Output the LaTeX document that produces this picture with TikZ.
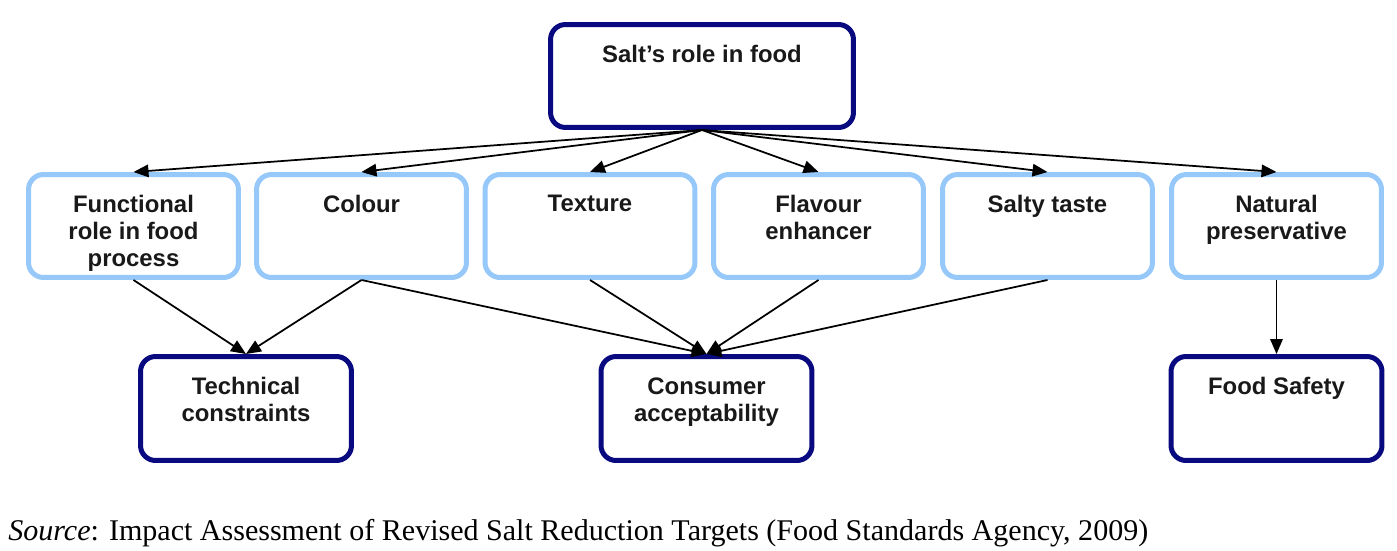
\documentclass[tikz,border=0pt]{standalone}
\usepackage{fontspec}
\setmainfont{Liberation Serif}
\setsansfont{Liberation Sans}
\usetikzlibrary{arrows.meta,positioning}
\definecolor{navyline}{RGB}{10,10,128}
\definecolor{paleline}{RGB}{150,200,250}
\tikzset{
  box/.style={draw, line width=0.1cm, rounded corners=0.3cm, fill=white, inner sep=0pt},
  mainbox/.style={box, draw=navyline, minimum height=2.08cm, minimum width=4.22cm},
  rolebox/.style={box, draw=paleline, minimum width=4.2cm, minimum height=2.06cm},
  lbl/.style={anchor=north, inner sep=0pt, yshift=-0.46cm, align=center,
    font=\sffamily\bfseries\fontsize{13.6}{15.4}\selectfont, text=black!90},
  arr/.style={-{Triangle[length=0.3cm,width=0.25cm]}, line width=0.035cm}
}

\begin{document}
\begin{tikzpicture}[x=0.02cm,y=-0.02cm]
\useasboundingbox (0,0) rectangle (1397,551);
\node (salt)     [mainbox, minimum width=6.06cm, minimum height=2.06cm] at (702,76) {};
\node (func)     [rolebox] at (133.5,226)  {};
\node (colour)   [rolebox] at (361.5,226)  {};
\node (texture)  [rolebox] at (590,226)    {};
\node (flavour)  [rolebox] at (818.5,226)  {};
\node (salty)    [rolebox] at (1047.5,226) {};
\node (natural)  [rolebox] at (1276.5,226) {};
\node (tech)     [mainbox] at (246,408.5)    {};
\node (consumer) [mainbox] at (706.5,408.5)  {};
\node (safety)   [mainbox] at (1276.5,408.5) {};
\node at (salt.north)     [lbl] {Salt's role in food};
\node at (func.north)     [lbl] {Functional\\role in food\\process};
\node at (colour.north)   [lbl] {Colour};
\node at (texture.north)  [lbl] {Texture};
\node at (flavour.north)  [lbl] {Flavour\\enhancer};
\node at (salty.north)    [lbl] {Salty taste};
\node at (natural.north)  [lbl] {Natural\\preservative};
\node at (tech.north)     [lbl] {Technical\\constraints};
\node at (consumer.north) [lbl] {Consumer\\acceptability};
\node at (safety.north)   [lbl] {Food Safety};
\foreach \t in {func,colour,texture,flavour,salty,natural}
  \draw[arr] (salt.south) -- (\t.north);
\foreach \s/\t in {func/tech,colour/tech,colour/consumer,texture/consumer,flavour/consumer,salty/consumer,natural/safety}
  \draw[arr] (\s.south) -- (\t.north);
\node (source) [anchor=base west, inner sep=0pt] at (8,540)
  {\fontsize{17.1}{20}\selectfont\textit{Source}: Impact Assessment of Revised Salt Reduction Targets (Food Standards Agency, 2009)};
\end{tikzpicture}
\end{document}
